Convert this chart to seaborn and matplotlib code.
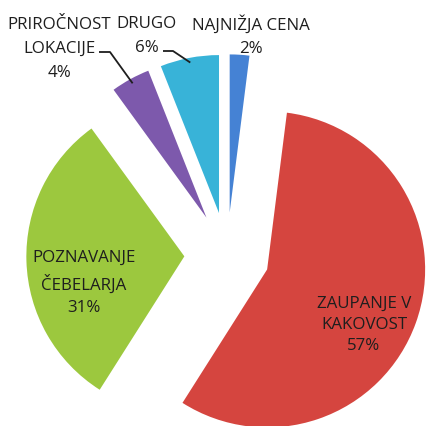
import numpy as np
import matplotlib
matplotlib.use("Agg")
import matplotlib.pyplot as plt
import seaborn as sns

categories = ["NAJNIŽJA CENA", "ZAUPANJE V KAKOVOST", "POZNAVANJE ČEBELARJA",
              "PRIROČNOST LOKACIJE", "DRUGO"]
label_lines = [["NAJNIŽJA CENA"], ["ZAUPANJE V", "KAKOVOST"], ["POZNAVANJE", "ČEBELARJA"],
               ["PRIROČNOST", "LOKACIJE"], ["DRUGO"]]
values = [2, 57, 31, 4, 6]
colors = ["#4582d4", "#d5453f", "#9cc83e", "#7d59ac", "#38b3d8"]

sns.set_theme(style="white")
plt.rcParams["font.family"] = ["Open Sans", "DejaVu Sans"]

fig = plt.figure(figsize=(4.28, 4.26), dpi=100)
ax = fig.add_axes([0, 0, 1, 1])

explode = [0.27, 0.27, 0.27, 0.27, 0.27]
wedges, _ = ax.pie(values, colors=colors, startangle=90, counterclock=False,
                   explode=explode, radius=1.0,
                   wedgeprops=dict(linewidth=0, antialiased=True))

# px -> data helpers (pie center at px (227,255), radius 158 px)
S = 158.0
CX, CY = 227.0, 255.0
def d(px, py):
    return ((px - CX) / S, (CY - py) / S)

ax.set_xlim(d(0, 0)[0], d(428, 0)[0])
ax.set_ylim(d(0, 426)[1], d(0, 0)[1])
ax.set_aspect("auto")
ax.axis("off")

text_pos = {
    0: (251, 36),
    1: (364, 325),
    2: (84, 283),
    3: (59, 49),
    4: (147, 36),
}
spacing = {0: 1.65, 1: 1.45, 2: 1.55, 3: 1.65, 4: 1.65}
fs = 12.2
for i, (lines, v) in enumerate(zip(label_lines, values)):
    txt = "\n".join(lines + [f"{v}%"])
    ax.text(*d(*text_pos[i]), txt, ha="center", va="center", fontsize=fs,
            color="#1e1e1e", linespacing=spacing[i])

# leader lines for purple and cyan wedges
def wedge_edge_point(w, frac=1.0):
    ang = np.deg2rad((w.theta1 + w.theta2) / 2)
    cx, cy = w.center
    return cx + w.r * frac * np.cos(ang), cy + w.r * frac * np.sin(ang)

leaders = {3: [(99, 52), (110, 52)], 4: [(163, 51), (173, 51)]}
for i, pts in leaders.items():
    ex, ey = wedge_edge_point(wedges[i], 0.97)
    xs = [d(*p)[0] for p in pts] + [ex]
    ys = [d(*p)[1] for p in pts] + [ey]
    ax.plot(xs, ys, color="#1e1e1e", lw=1.3, solid_capstyle="butt")

fig.savefig("out.png", dpi=100)
